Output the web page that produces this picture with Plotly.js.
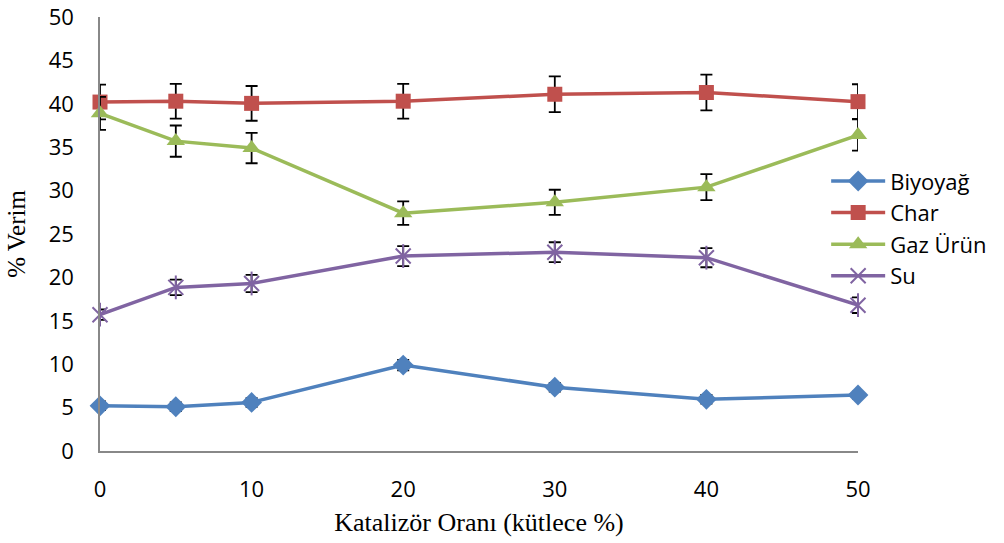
<!DOCTYPE html>
<html>
<head>
<meta charset="utf-8">
<script src="https://cdn.plot.ly/plotly-3.0.1.min.js"></script>
<style>html,body{margin:0;padding:0;background:#fff;}#chart{width:1004px;height:543px;}</style>
</head>
<body>
<div id="chart"></div>
<script>
const katalizor = [0, 5, 10, 20, 30, 40, 50];
const biyoyag = [5.2, 5.1, 5.6, 9.9, 7.35, 5.95, 6.45];
const biyoyagErr = [0.5, 0.5, 0.5, 0.6, 0.5, 0.5, 0.4];
const charV = [40.2, 40.3, 40.05, 40.3, 41.1, 41.3, 40.25];
const charErr = [2.0, 2.0, 2.0, 2.0, 2.05, 2.05, 2.0];
const gazUrun = [38.9, 35.7, 34.9, 27.4, 28.65, 30.4, 36.4];
const gazErr = [1.9, 1.8, 1.75, 1.35, 1.45, 1.5, 1.8];
const su = [15.7, 18.85, 19.3, 22.46, 22.9, 22.27, 16.8];
const suErr = [0.6, 0.9, 1.0, 1.15, 1.15, 1.1, 0.9];
const seriesNames = ['Biyoyağ', 'Char', 'Gaz Ürün', 'Su'];
const xTicks = [0, 10, 20, 30, 40, 50];
const yTicks = [0, 5, 10, 15, 20, 25, 30, 35, 40, 45, 50];

function eb(arr) {
  return {type: 'data', array: arr, visible: true, color: '#000', thickness: 1.8, width: 6};
}

const traces = [
  {x: katalizor, y: biyoyag, name: seriesNames[0], mode: 'lines+markers', legendgroup: 'a', cliponaxis: false,
   line: {color: '#4F81BD', width: 3.5}, marker: {symbol: 'diamond', size: 16, color: '#4F81BD'},
   error_y: eb(biyoyagErr)},
  {x: katalizor, y: charV, name: seriesNames[1], mode: 'lines+markers', legendgroup: 'b', cliponaxis: false,
   line: {color: '#C0504D', width: 3.5}, marker: {symbol: 'square', size: 15, color: '#C0504D'},
   error_y: eb(charErr)},
  {x: katalizor, y: gazUrun, name: seriesNames[2], mode: 'lines+markers', legendgroup: 'c', cliponaxis: false,
   line: {color: '#9BBB59', width: 3.5}, marker: {symbol: 'triangle-up', size: 16, color: '#9BBB59'},
   error_y: eb(gazErr)},
  {x: katalizor, y: su, name: seriesNames[3], mode: 'lines+markers', legendgroup: 'd', cliponaxis: false,
   line: {color: '#8064A2', width: 3.5}, marker: {symbol: 'x-thin-open', size: 15, color: '#8064A2', line: {color: '#8064A2', width: 2}},
   error_y: eb(suErr)},
  {x: katalizor, y: su, name: seriesNames[3], mode: 'markers', legendgroup: 'd', showlegend: false, cliponaxis: false,
   marker: {symbol: 'line-ns-open', size: 17, color: '#8064A2', line: {color: '#8064A2', width: 2}}}
];

const layout = {
  width: 1004, height: 543,
  margin: {l: 100, r: 142, t: 17, b: 92},
  paper_bgcolor: '#fff', plot_bgcolor: '#fff',
  font: {family: 'Open Sans, Liberation Sans, sans-serif', size: 22, color: '#000'},
  showlegend: true,
  legend: {x: 0.958, y: 0.67, xanchor: 'left', yanchor: 'top', traceorder: 'grouped', tracegroupgap: 0,
           itemwidth: 54,
           font: {family: 'Open Sans, Liberation Sans, sans-serif', size: 22, color: '#000'}, bgcolor: 'rgba(0,0,0,0)'},
  xaxis: {range: [0, 50], tickvals: xTicks, ticktext: xTicks.map(String), showgrid: false, zeroline: false,
          showline: true, linecolor: '#888', linewidth: 1.5, ticks: 'outside', ticklen: 18, tickcolor: 'rgba(0,0,0,0)',
          tickfont: {size: 22},
          title: {text: 'Katalizör Oranı (kütlece %)', font: {family: 'Liberation Serif, Times New Roman, serif', size: 26}, standoff: 11}},
  yaxis: {range: [0, 50], tickvals: yTicks, ticktext: yTicks.map(String), showgrid: false, zeroline: false,
          showline: true, linecolor: '#888', linewidth: 1.5, ticks: 'outside', ticklen: 20, tickcolor: 'rgba(0,0,0,0)',
          tickfont: {size: 22},
          title: {text: '% Verim', font: {family: 'Liberation Serif, Times New Roman, serif', size: 25}, standoff: 16}}
};

Plotly.newPlot('chart', traces, layout, {displayModeBar: false});
</script>
</body>
</html>
